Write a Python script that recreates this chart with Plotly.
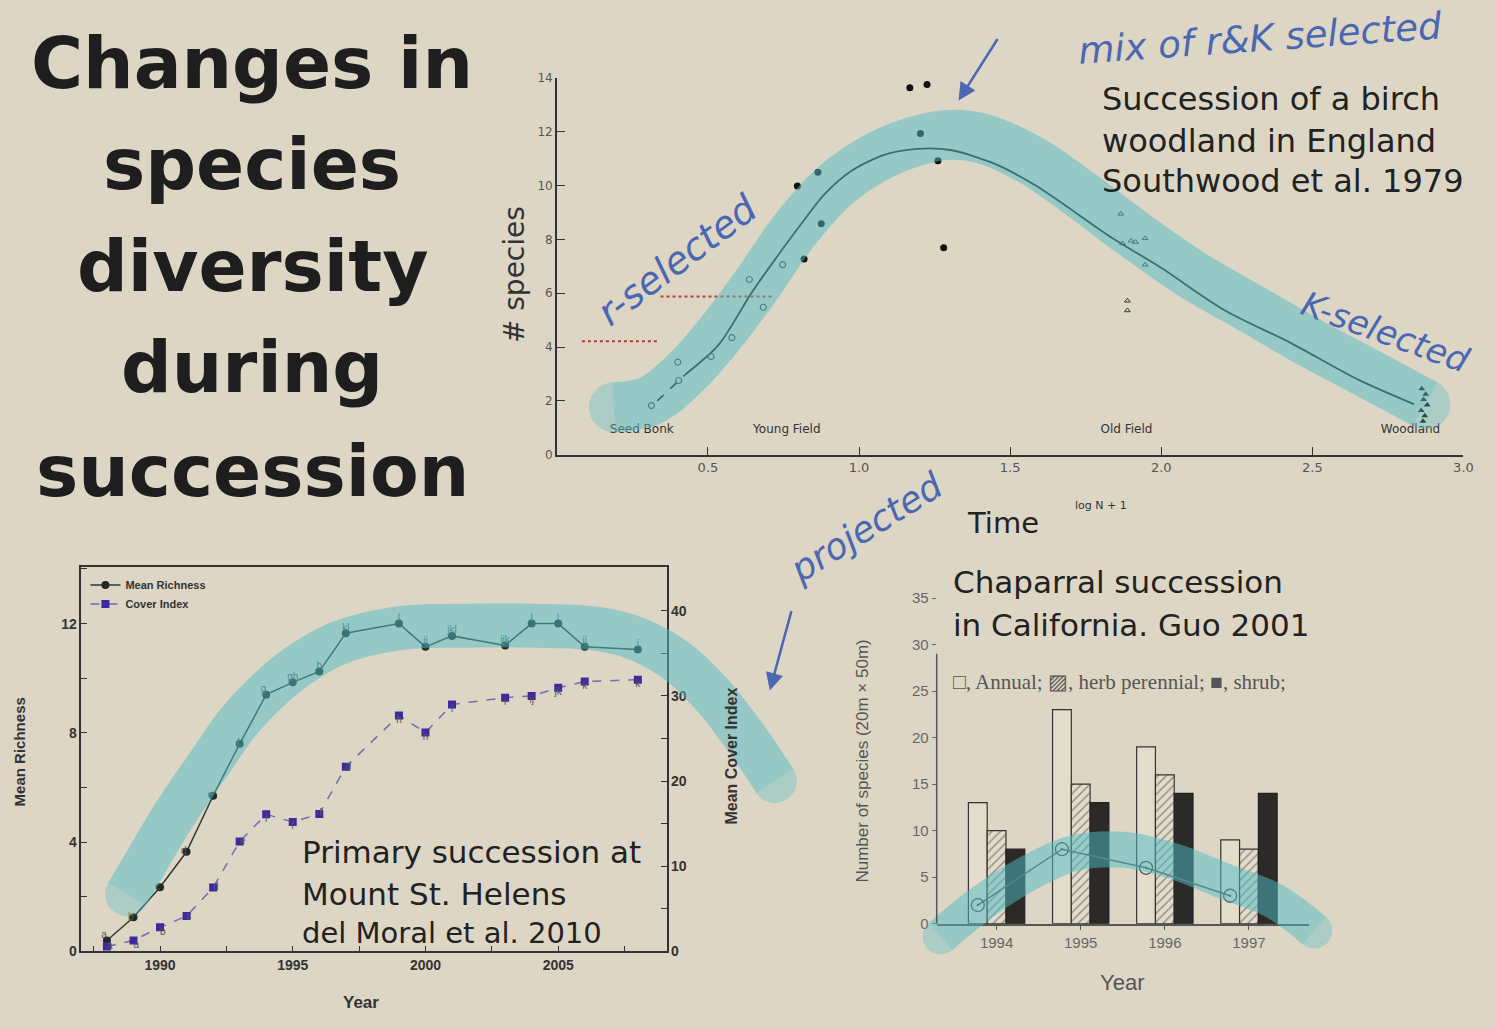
import plotly.graph_objects as go

W, H = 1496, 1029
BG = '#DED6C5'
INK = '#222222'
PEN = '#4A67B2'
TEAL = 'rgb(80,190,200)'
SLIDE_FONT = 'DejaVu Sans'

# ---------------- Top chart: birch woodland succession (Southwood et al. 1979) -------------
young_x = [0.313, 0.400, 0.403, 0.510, 0.579, 0.637, 0.683, 0.747]
young_y = [1.83, 3.44, 2.76, 3.65, 4.35, 6.51, 5.48, 7.06]
mid_x = [0.796, 0.864, 0.818, 0.875, 1.168, 1.225, 1.203, 1.261, 1.280]
mid_y = [9.98, 10.49, 7.27, 8.58, 13.63, 13.75, 11.93, 10.92, 7.69]
old_x = [1.866, 1.872, 1.900, 1.915, 1.947, 1.947, 1.888, 1.888]
old_y = [8.95, 7.85, 7.95, 7.90, 8.04, 7.06, 5.72, 5.36]
wood_x = [2.862, 2.875, 2.868, 2.880, 2.860, 2.872, 2.866]
wood_y = [2.45, 2.25, 2.05, 1.85, 1.65, 1.45, 1.25]
fit_dash_x = [0.332, 0.425]
fit_dash_y = [2.00, 2.98]
fit_x = [0.425, 0.535, 0.645, 0.721, 0.809, 0.886, 0.973, 1.083, 1.192, 1.302, 1.444,
         1.587, 1.839, 1.992, 2.211, 2.431, 2.650, 2.836]
fit_y = [2.98, 4.08, 6.03, 7.24, 8.58, 9.68, 10.53, 11.14, 11.36, 11.32, 10.83,
         9.98, 8.04, 7.00, 5.36, 4.14, 2.80, 1.88]
stage_names = ['Seed Bonk', 'Young Field', 'Old Field', 'Woodland']
stage_x = [0.281, 0.761, 1.885, 2.825]
stage_y = [0.92, 0.92, 0.92, 0.92]
top_xticks = [0.5, 1.0, 1.5, 2.0, 2.5, 3.0]
top_xtick_text = ['0.5', '1.0', '1.5', '2.0', '2.5', '3.0']
top_yticks = [0, 2, 4, 6, 8, 10, 12, 14]
ref_x = [[0.083, 0.334], [0.343, 0.716]]
ref_y = [4.22, 5.88]

# ---------------- Bottom-left: Mount St. Helens (del Moral et al. 2010) ----------------
msh_years = [1988, 1989, 1990, 1991, 1992, 1993, 1994, 1995, 1996, 1997, 1999, 2000,
             2001, 2003, 2004, 2005, 2006, 2008]
richness = [0.40, 1.25, 2.35, 3.65, 5.70, 7.60, 9.40, 9.85, 10.25, 11.65, 12.0, 11.15,
            11.55, 11.20, 12.0, 12.0, 11.15, 11.05]
rich_lbl = ['a', 'b', 'c', 'd', 'e', 'f', 'g', 'gh', 'h', 'kl', 'l', 'ij', 'jkl', 'ijk',
            'l', 'l', 'ij', 'i']
cover = [0.58, 1.3, 2.85, 4.15, 7.5, 12.9, 16.1, 15.2, 16.15, 21.7, 27.7, 25.7, 29.0,
         29.8, 30.0, 30.95, 31.7, 31.9]
cover_lbl = ['a', 'a', 'b', 'c', 'd', 'e', 'f', 'f', 'f', 'g', 'h', 'h', 'i', 'i', 'ij',
             'jk', 'k', 'k']
rich_pos = ['top left', 'middle left', 'middle left', 'middle left', 'middle left',
            'middle left', 'top left'] + ['top center'] * 11
cover_pos = ['middle right', 'bottom right', 'bottom right', 'middle right', 'middle right',
             'middle right', 'bottom center', 'bottom center', 'middle right', 'middle right'] + ['bottom center'] * 8

# ---------------- Bottom-right: Chaparral succession (Guo 2001) ----------------
chap_years = [1994, 1995, 1996, 1997]
annual = [13, 23, 19, 9]
herb = [10, 15, 16, 8]
shrub = [8, 13, 14, 14]
chap_line = [2, 8, 6, 3]

# ---------------- Hand-drawn highlighter strokes (page pixels) ----------------
band_top_x = [618, 655, 690, 725, 760, 800, 840, 880, 920, 955, 990, 1040, 1090, 1140,
              1200, 1260, 1320, 1380, 1435]
band_top_y = [405, 398, 370, 330, 283, 225, 180, 152, 135, 128, 132, 155, 190, 228,
              270, 305, 340, 372, 402]
band_bl_x = [128, 150, 170, 190, 210, 240, 270, 300, 340, 400, 470, 540, 600, 640, 680,
             715, 750, 780]
band_bl_y = [900, 862, 828, 797, 768, 725, 693, 668, 645, 630, 627, 627, 630, 640, 662,
             695, 740, 785]
band_br_x = [947, 983, 1033, 1083, 1133, 1183, 1233, 1283, 1323]
band_br_y = [943, 913, 880, 858, 855, 867, 887, 907, 937]


def px(x):
    return x / W


def py(y):
    return 1 - y / H


fig = go.Figure()

# ---- top chart traces ----
fig.add_trace(go.Scatter(x=fit_dash_x, y=fit_dash_y, mode='lines', xaxis='x', yaxis='y',
                         line=dict(color=INK, width=1.8, dash='dash'), showlegend=False))
fig.add_trace(go.Scatter(x=fit_x, y=fit_y, mode='lines', xaxis='x', yaxis='y',
                         line=dict(color=INK, width=1.8, shape='spline', smoothing=0.8),
                         showlegend=False))
fig.add_trace(go.Scatter(x=young_x, y=young_y, mode='markers', xaxis='x', yaxis='y',
                         marker=dict(symbol='circle-open', size=6, color='#444',
                                     line=dict(width=1.2)), showlegend=False))
fig.add_trace(go.Scatter(x=mid_x, y=mid_y, mode='markers', xaxis='x', yaxis='y',
                         marker=dict(symbol='circle', size=7, color='#111'), showlegend=False))
fig.add_trace(go.Scatter(x=old_x, y=old_y, mode='markers', xaxis='x', yaxis='y',
                         marker=dict(symbol='triangle-up-open', size=5, color='#333',
                                     line=dict(width=1)), showlegend=False))
fig.add_trace(go.Scatter(x=wood_x, y=wood_y, mode='markers', xaxis='x', yaxis='y',
                         marker=dict(symbol='triangle-up', size=6, color='#111'), showlegend=False))
fig.add_trace(go.Scatter(x=stage_x, y=stage_y, mode='text', text=stage_names, xaxis='x', yaxis='y',
                         textfont=dict(family='DejaVu Sans', size=12, color='#333'),
                         showlegend=False))
for xs, yv in zip(ref_x, ref_y):
    fig.add_trace(go.Scatter(x=xs, y=[yv, yv], mode='lines', xaxis='x', yaxis='y',
                             line=dict(color='#C0392B', width=2, dash='dot'), showlegend=False))

# ---- bottom-left traces ----
fig.add_trace(go.Scatter(x=msh_years, y=richness, mode='lines+markers', xaxis='x2', yaxis='y2',
                         name='Mean Richness', line=dict(color='#2D3A33', width=1.5),
                         marker=dict(symbol='circle', size=8, color='#1F2A22')))
fig.add_trace(go.Scatter(x=msh_years, y=richness, mode='text', xaxis='x2', yaxis='y2',
                         text=rich_lbl, textposition=rich_pos,
                         textfont=dict(size=10, color='#555', family='Liberation Sans'),
                         showlegend=False))
fig.add_trace(go.Scatter(x=msh_years, y=cover, mode='lines+markers', xaxis='x2', yaxis='y3',
                         name='Cover Index', line=dict(color='#7A68B0', width=1.5, dash='dash'),
                         marker=dict(symbol='square', size=8, color='#3E2A9E')))
fig.add_trace(go.Scatter(x=msh_years, y=cover, mode='text', xaxis='x2', yaxis='y3',
                         text=cover_lbl, textposition=cover_pos,
                         textfont=dict(size=10, color='#555', family='Liberation Sans'),
                         showlegend=False))

# ---- bottom-right traces ----
bar_gap = 0.33
bar_w = (1 - bar_gap) / 3
fig.add_trace(go.Bar(x=chap_years, y=annual, xaxis='x4', yaxis='y4', name='Annual',
                     marker=dict(color='#E4DCCB', line=dict(color='#333', width=1.2)),
                     showlegend=False))
fig.add_trace(go.Bar(x=chap_years, y=herb, xaxis='x4', yaxis='y4', name='herb perennial',
                     marker=dict(color='#E4DCCB', line=dict(color='#333', width=1.2),
                                 pattern=dict(shape='/', fgcolor='#444', bgcolor='#E4DCCB',
                                              size=6, solidity=0.25)),
                     showlegend=False))
fig.add_trace(go.Bar(x=chap_years, y=shrub, xaxis='x4', yaxis='y4', name='shrub',
                     marker=dict(color='#2B2A27', line=dict(color='#222', width=1.2)),
                     showlegend=False))
fig.add_trace(go.Scatter(x=[y - bar_w for y in chap_years], y=chap_line, mode='lines+markers',
                         xaxis='x4', yaxis='y4', line=dict(color='#555', width=1.5),
                         marker=dict(symbol='circle-open-dot', size=13, color='#444',
                                     line=dict(width=1.3)), showlegend=False))

# ---- highlighter overlay (page pixels, drawn on top) ----
for bx, by, wd in [(band_top_x, band_top_y, 50), (band_bl_x, band_bl_y, 44),
                   (band_br_x, band_br_y, 36)]:
    sizes = [wd] + [0] * (len(bx) - 2) + [wd]
    fig.add_trace(go.Scatter(x=bx, y=by, mode='lines+markers', xaxis='x5', yaxis='y5',
                             line=dict(color=TEAL, width=wd, shape='spline', smoothing=1),
                             marker=dict(size=sizes, color=TEAL, line=dict(width=0)),
                             opacity=0.5, showlegend=False, hoverinfo='skip'))

tick_font_top = dict(family='DejaVu Sans', size=13, color='#555')
bold_font = dict(family='Liberation Sans', size=14, color='#333', weight='bold')

fig.update_layout(
    width=W, height=H,
    margin=dict(l=0, r=0, t=0, b=0),
    paper_bgcolor=BG, plot_bgcolor='rgba(0,0,0,0)',
    barmode='group', bargap=bar_gap, bargroupgap=0,
    showlegend=True,
    legend=dict(x=px(86), y=py(571), xanchor='left', yanchor='top',
                bgcolor='rgba(0,0,0,0)', tracegroupgap=0,
                font=dict(family='Liberation Sans', size=11, color='#333', weight='bold')),
    # top chart
    xaxis=dict(domain=[px(560.6), px(1473.3)], range=[0, 3], anchor='y',
               tickvals=top_xticks, ticktext=top_xtick_text, ticks='inside', ticklen=8,
               tickcolor='#333', showline=True, linecolor='#333', linewidth=1.5,
               showgrid=False, zeroline=False, tickfont=tick_font_top),
    yaxis=dict(domain=[py(453.3), py(70)], range=[0, 14], anchor='x',
               tickvals=top_yticks, ticks='inside', ticklen=8, tickcolor='#333',
               showline=True, linecolor='#333', linewidth=1.5, showgrid=False,
               zeroline=False, tickfont=dict(family='DejaVu Sans', size=12, color='#555')),
    # bottom-left
    xaxis2=dict(domain=[px(82), px(671)], range=[1987.04, 2009.08], anchor='y2',
                tickvals=[1990, 1995, 2000, 2005], ticks='inside', ticklen=6, tickcolor='#333',
                minor=dict(dtick=2.5, tick0=1987.5, ticks='inside', ticklen=6, tickcolor='#333'),
                showline=True, mirror=True, linecolor='#333', linewidth=1.5,
                showgrid=False, zeroline=False, tickfont=bold_font),
    yaxis2=dict(domain=[py(958.3), py(567.7)], range=[0, 14.06], anchor='x2',
                tickvals=[0, 4, 8, 12], ticks='inside', ticklen=6, tickcolor='#333',
                minor=dict(dtick=2, ticks='inside', ticklen=6, tickcolor='#333'),
                showline=True, mirror=True, linecolor='#333', linewidth=1.5,
                showgrid=False, zeroline=False, tickfont=bold_font),
    yaxis3=dict(overlaying='y2', side='right', range=[0, 45.1], anchor='x2',
                tickvals=[0, 10, 20, 30, 40], ticks='inside', ticklen=6, tickcolor='#333',
                minor=dict(dtick=5, ticks='inside', ticklen=6, tickcolor='#333'),
                showline=True, linecolor='#333', linewidth=1.5, showgrid=False,
                zeroline=False, tickfont=bold_font),
    # bottom-right
    xaxis4=dict(domain=[px(943), px(1318)], range=[1993.288, 1997.716], anchor='y4',
                tickvals=chap_years, ticks='outside', ticklen=5, tickcolor='#555',
                showline=True, linecolor='#555', linewidth=1.5, showgrid=False,
                zeroline=False, tickfont=dict(family='Liberation Sans', size=15, color='#666')),
    yaxis4=dict(domain=[py(930), py(598.9)], range=[0, 35], anchor='x4',
                tickvals=[0, 5, 10, 15, 20, 25, 30, 35], ticks='outside', ticklen=4,
                tickcolor='#666', showline=False, showgrid=False, zeroline=False,
                tickfont=dict(family='Liberation Sans', size=15, color='#666')),
    # page overlay for hand-drawn strokes
    xaxis5=dict(domain=[0, 1], range=[0, W], anchor='y5', visible=False, fixedrange=True),
    yaxis5=dict(domain=[0, 1], range=[H, 0], anchor='x5', visible=False, fixedrange=True),
)

fig.add_shape(type='line', xref='x4 domain', yref='y4', x0=0, x1=0, y0=0, y1=29,
              line=dict(color='#555', width=1.5))

anns = []


def ann(text, x, y, size, color=INK, family=SLIDE_FONT, xanchor='center',
        yanchor='middle', angle=0, weight='normal'):
    anns.append(dict(text=text, x=px(x), y=py(y), xref='paper', yref='paper',
                     showarrow=False, xanchor=xanchor, yanchor=yanchor, textangle=angle,
                     font=dict(size=size, color=color, family=family, weight=weight)))


# slide title
title_lines = ['Changes in', 'species', 'diversity', 'during', 'succession']
title_y = [55, 158, 262, 365, 470]
for t, yy in zip(title_lines, title_y):
    ann(t, 254, yy, 71, color='#1E1E1E', family='DejaVu Sans', weight='bold')

# top chart texts
ann('# species', 518, 270, 28, color='#333', angle=-90)
ann('Time', 1010, 523, 29, color='#222')
ann('log N + 1', 1108, 505, 11, color='#333')
for t, yy in zip(['Succession of a birch', 'woodland in England', 'Southwood et al. 1979'],
                 [92, 134, 175]):
    ann(t, 1107, yy, 32, xanchor='left')

# bottom-left texts
ann('Mean Richness', 20, 755, 15, color='#333', family='Liberation Sans', angle=-90, weight='bold')
ann('Mean Cover Index', 736, 760, 16, color='#333', family='Liberation Sans', angle=-90, weight='bold')
ann('Year', 363, 1010, 17, color='#333', family='Liberation Sans', weight='bold')
ann('Primary succession at', 302, 857, 31, xanchor='left')
ann('Mount St. Helens', 302, 900, 31, xanchor='left')
ann('del Moral et al. 2010', 302, 940, 29, xanchor='left')

# bottom-right texts
ann('Chaparral succession', 957, 583, 31, xanchor='left')
ann('in California. Guo 2001', 957, 626, 31, xanchor='left')
ann('Number of species (20m \u00d7 50m)', 868, 765, 17, color='#555',
    family='Liberation Sans', angle=-90)
ann('Year', 1130, 990, 22, color='#555', family='Liberation Sans')
ann('\u25a1, Annual; \u25a8, herb perennial; \u25a0, shrub;', 957, 684, 21, color='#555',
    family='Liberation Serif', xanchor='left')

# hand-written notes
ann('<i>mix of r&amp;K selected</i>', 1268, 30, 37, color=PEN, angle=-4)
ann('<i>r-selected</i>', 682, 255, 38, color=PEN, angle=-37)
ann('<i>K-selected</i>', 1395, 328, 34, color=PEN, angle=20)
ann('<i>projected</i>', 872, 527, 36, color=PEN, angle=-32)

# hand-drawn arrows
for hx, hy, ax_, ay_ in [(965, 93, 40, -63), (775, 693, 22, -81)]:
    anns.append(dict(text='', x=px(hx), y=py(hy), xref='paper', yref='paper',
                     showarrow=True, ax=ax_, ay=ay_, arrowhead=2, arrowsize=1.4,
                     arrowwidth=2.5, arrowcolor=PEN))

fig.update_layout(annotations=anns)
fig.write_html('out.html',
               post_script="document.documentElement.style.overflow='hidden';"
                           "document.body.style.overflow='hidden';"
                           "document.body.style.margin='0';")
